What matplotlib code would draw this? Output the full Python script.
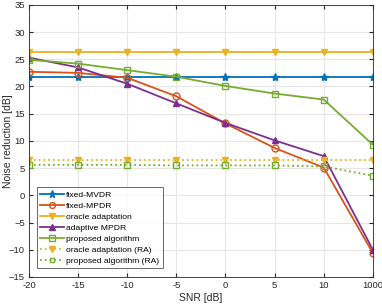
import matplotlib.pyplot as plt
import numpy as np

# x tick labels (equally spaced categories)
snr_labels = ['-20', '-15', '-10', '-5', '0', '5', '10', '1000']

fixed_mvdr = [21.8, 21.8, 21.8, 21.8, 21.8, 21.8, 21.8, 21.8]
fixed_mpdr = [22.7, 22.5, 21.6, 18.2, 13.2, 8.7, 5.1, -10.6]
oracle = [26.3, 26.3, 26.3, 26.3, 26.3, 26.3, 26.3, 26.3]
adaptive_mpdr = [25.3, 23.5, 20.5, 16.9, 13.3, 10.1, 7.2, -10.0]
proposed = [24.9, 24.2, 23.0, 21.8, 20.1, 18.7, 17.6, 9.3]
oracle_ra = [6.4, 6.4, 6.4, 6.4, 6.4, 6.4, 6.4, 6.4]
proposed_ra = [5.6, 5.6, 5.6, 5.5, 5.5, 5.5, 5.3, 3.6]

# matlab default colours
c_blue = '#0072BD'
c_orange = '#D95319'
c_yellow = '#EDB120'
c_purple = '#7E2F8E'
c_green = '#77AC30'
text_color = '#262626'

plt.rcParams['font.family'] = ['Liberation Sans', 'DejaVu Sans']
fig = plt.figure(figsize=(3.82, 3.04), dpi=100)
ax = fig.add_axes([0.076, 0.089, 0.9, 0.895])

x = np.arange(len(snr_labels))
lw = 1.3
ms = 5

ax.plot(x, fixed_mvdr, color=c_blue, marker='*', ms=ms + 1, lw=lw, label='fixed-MVDR')
ax.plot(x, fixed_mpdr, color=c_orange, marker='o', mfc='none', ms=ms, lw=lw, label='fixed-MPDR')
ax.plot(x, oracle, color=c_yellow, marker='v', ms=ms, lw=lw, label='oracle adaptation')
ax.plot(x, adaptive_mpdr, color=c_purple, marker='^', ms=ms, lw=lw, label='adaptive MPDR')
ax.plot(x, proposed, color=c_green, marker='s', mfc='none', ms=ms - 0.5, lw=lw, label='proposed algorithm')
ax.plot(x, oracle_ra, color=c_yellow, marker='v', ms=ms, lw=lw, ls=':', label='oracle adaptation (RA)')
ax.plot(x, proposed_ra, color=c_green, marker='s', mfc='none', ms=ms - 1, lw=lw, ls=':', label='proposed algorithm (RA)')

ax.set_xlim(0, 7)
ax.set_ylim(-15, 35)
ax.set_xticks(x)
ax.set_xticklabels(snr_labels)
ax.set_yticks(np.arange(-15, 36, 5))
ax.tick_params(labelsize=6.8, direction='in', length=3, color=text_color, top=True, right=True,
               labelcolor=text_color, pad=3)
ax.grid(True, color='#e6e6e6', lw=0.8)
ax.set_axisbelow(True)
for s in ax.spines.values():
    s.set_color(text_color)
    s.set_linewidth(0.6)

ax.set_xlabel('SNR [dB]', fontsize=7.5, color=text_color, labelpad=2)
ax.set_ylabel('Noise reduction [dB]', fontsize=7.5, color=text_color)
ax.yaxis.set_label_coords(-0.047, 0.5)

leg = ax.legend(loc='lower left', bbox_to_anchor=(0.022, 0.033), borderaxespad=0, fontsize=6.1,
                frameon=True, fancybox=False, edgecolor=text_color, handlelength=2.8, borderpad=0.4,
                labelspacing=0.36, handletextpad=0.3, markerscale=0.85)
leg.get_frame().set_linewidth(0.6)

fig.savefig('out.png', dpi=100)
